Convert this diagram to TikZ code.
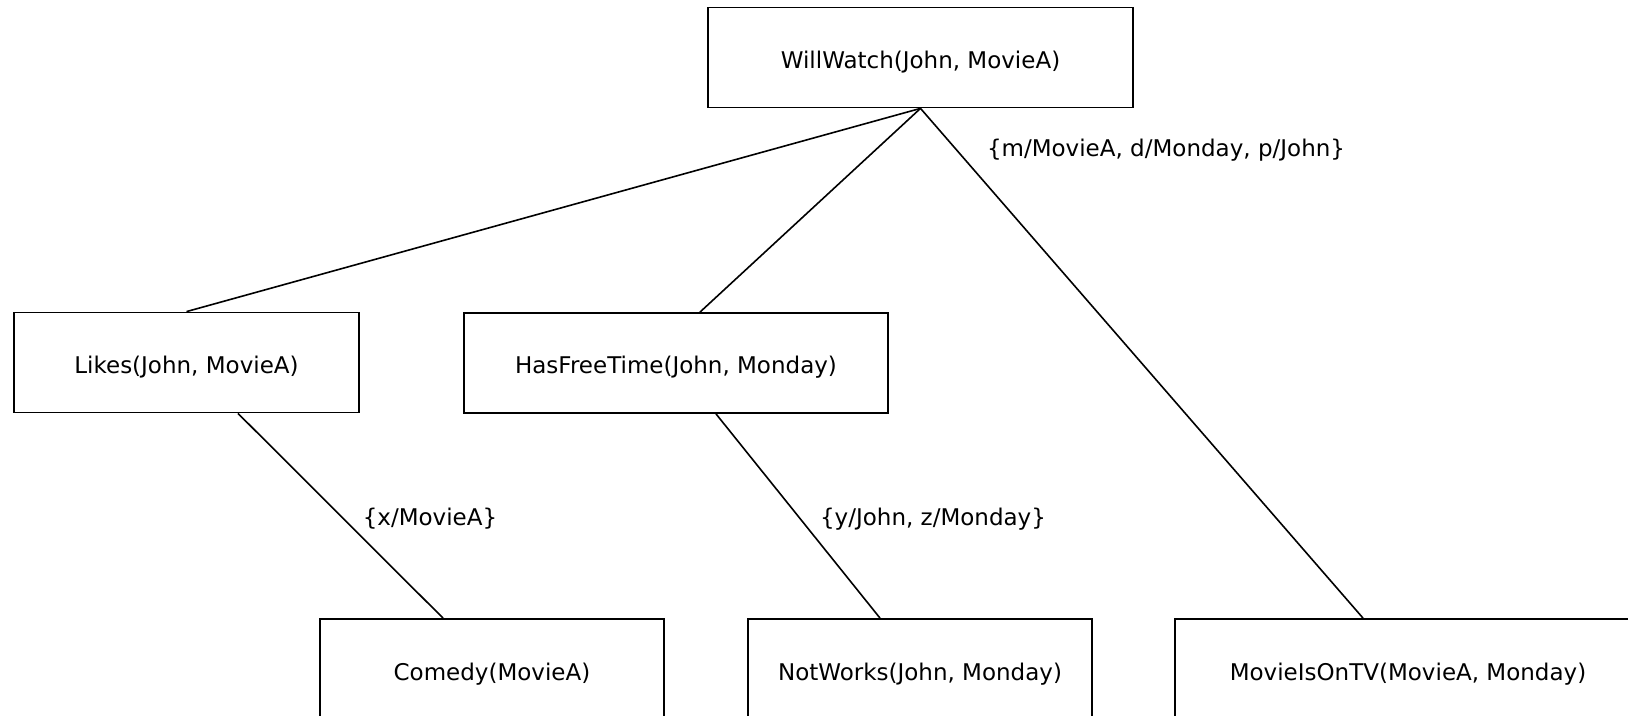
\documentclass[tikz,border=0pt]{standalone}
\usepackage{fontspec}
\setmainfont{DejaVu Sans}
\usetikzlibrary{positioning}
\tikzset{
  goalnode/.style={rectangle,draw=black,line width=0.9pt,fill=white,
    align=center,minimum height=50pt,inner sep=0pt,text height=11pt,text depth=0pt,
    font=\fontsize{11.5}{13}\selectfont},
  subst/.style={font=\fontsize{11.5}{13}\selectfont,inner sep=0pt},
  link/.style={draw=black,line width=0.8pt}
}
\begin{document}
\begin{tikzpicture}[x=0.5pt,y=-0.5pt]

  % Frame
  \useasboundingbox (0,0) rectangle (1628,716);
  \clip (0,0) rectangle (1628,716);

  % Goal
  \node[goalnode,minimum width=212.5pt] (willwatch) at (920.5,57.5) {WillWatch(John, MovieA)};

  % Sub-goals
  \node[goalnode,minimum width=172.5pt] (likes) at (186.5,362.5) {Likes(John, MovieA)};
  \node[goalnode,minimum width=212pt] (freetime) at (676,363) {HasFreeTime(John, Monday)};

  % Facts
  \node[goalnode,minimum width=172pt] (comedy) at (492,669) {Comedy(MovieA)};
  \node[goalnode,minimum width=172pt] (notworks) at (920,669) {NotWorks(John, Monday)};
  \node[goalnode,minimum width=233pt] (ontv) at (1408,669) {MovieIsOnTV(MovieA, Monday)};

  % Links
  \draw[link] (willwatch.south) -- (likes.north);
  \draw[link] (willwatch.south) -- ([xshift=12pt]freetime.north);
  \draw[link] (willwatch.south) -- ([xshift=-22.5pt]ontv.north);
  \draw[link] ([xshift=25.75pt]likes.south) -- ([xshift=-24.5pt]comedy.north);
  \draw[link] ([xshift=20pt]freetime.south) -- ([xshift=-20pt]notworks.north);

  % Substitutions
  \node[subst] (s1) at (1166,150) {\{m/MovieA, d/Monday, p/John\}};
  \node[subst] (s2) at (430,519) {\{x/MovieA\}};
  \node[subst] (s3) at (933,519) {\{y/John, z/Monday\}};

\end{tikzpicture}
\end{document}
